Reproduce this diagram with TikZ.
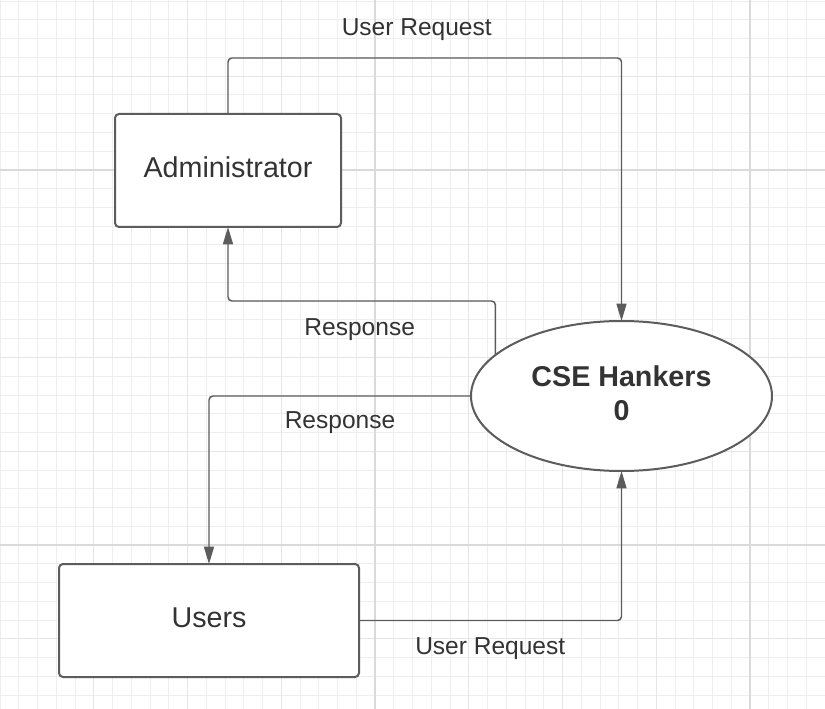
\documentclass[tikz,border=0pt]{standalone}
\usepackage{fontspec}
\setmainfont{Liberation Sans}
\usetikzlibrary{arrows.meta,shapes.geometric,positioning}

\definecolor{gridminor}{HTML}{EEEEEE}
\definecolor{gridmid}{HTML}{E5E5E5}
\definecolor{gridmajor}{HTML}{DADADA}
\definecolor{edge}{HTML}{5C5C5C}
\definecolor{ink}{HTML}{333333}

\tikzset{
  entity/.style={draw=edge, line width=1.5pt, fill=white, rounded corners=3pt,
    inner sep=0pt, outer sep=0pt, text depth=4.5pt, text=ink,
    font=\fontsize{21.5}{26}\selectfont},
  process/.style={ellipse, draw=edge, line width=1.5pt, fill=white, inner sep=0pt,
    outer sep=0pt, minimum width=225.75pt, minimum height=112.5pt, align=center,
    text=ink, font=\bfseries\fontsize{21.5}{26}\selectfont},
  flow/.style={draw=edge, line width=1.1pt, rounded corners=3pt,
    -{Triangle[length=13pt,width=7.5pt]}},
  lbl/.style={text=ink, inner sep=0pt, font=\fontsize{18.4}{22}\selectfont}
}

\begin{document}
\begin{tikzpicture}[x=0.75pt,y=-0.75pt]
\useasboundingbox (0,0) rectangle (825,709);
\fill[white] (0,0) rectangle (825,709);
% grid
\foreach \i in {0,...,44} \draw[gridminor, line width=0.75pt] (\i*18.75,0) -- (\i*18.75,709);
\foreach \j in {0,...,37} \draw[gridminor, line width=0.75pt] (0,1.25+\j*18.75) -- (825,1.25+\j*18.75);
\foreach \i in {5,10,...,40} \draw[gridmid, line width=0.75pt] (\i*18.75,0) -- (\i*18.75,709);
\foreach \j in {4,9,...,34} \draw[gridmid, line width=0.75pt] (0,1.25+\j*18.75) -- (825,1.25+\j*18.75);
\foreach \i in {20,40} \draw[gridmajor, line width=1pt] (\i*18.75,0) -- (\i*18.75,709);
\foreach \j in {9,29} \draw[gridmajor, line width=1pt] (0,1.25+\j*18.75) -- (825,1.25+\j*18.75);

% nodes
\node[entity, minimum width=169.5pt, minimum height=84.75pt] (admin) at (228,170.5) {Administrator};
\node[entity, minimum width=225pt, minimum height=84.75pt] (users) at (209,620.5) {Users};
\node[process] (hub) at (621.5,396) {CSE Hankers\\0\rule[-4.5pt]{0pt}{4.5pt}};

\coordinate (reqY) at (0,58);
\coordinate (respY) at (0,301);

% flows
\draw[flow] (admin.north) -- (admin.north |- reqY)
  -- node[lbl, xshift=-6pt, yshift=21pt] {User Request} (hub.north |- reqY) -- (hub.north);
\draw[flow] (hub.162) -- (hub.162 |- respY)
  -- node[lbl, xshift=-1.5pt, yshift=-21.75pt] {Response} (admin.south |- respY) -- (admin.south);
\draw[flow] (hub.west)
  -- node[lbl, yshift=-20.25pt] {Response} (users.north |- hub.west) -- (users.north);
\draw[flow] (users.east)
  -- node[lbl, yshift=-21.25pt] {User Request} (hub.south |- users.east) -- (hub.south);
\end{tikzpicture}
\end{document}
